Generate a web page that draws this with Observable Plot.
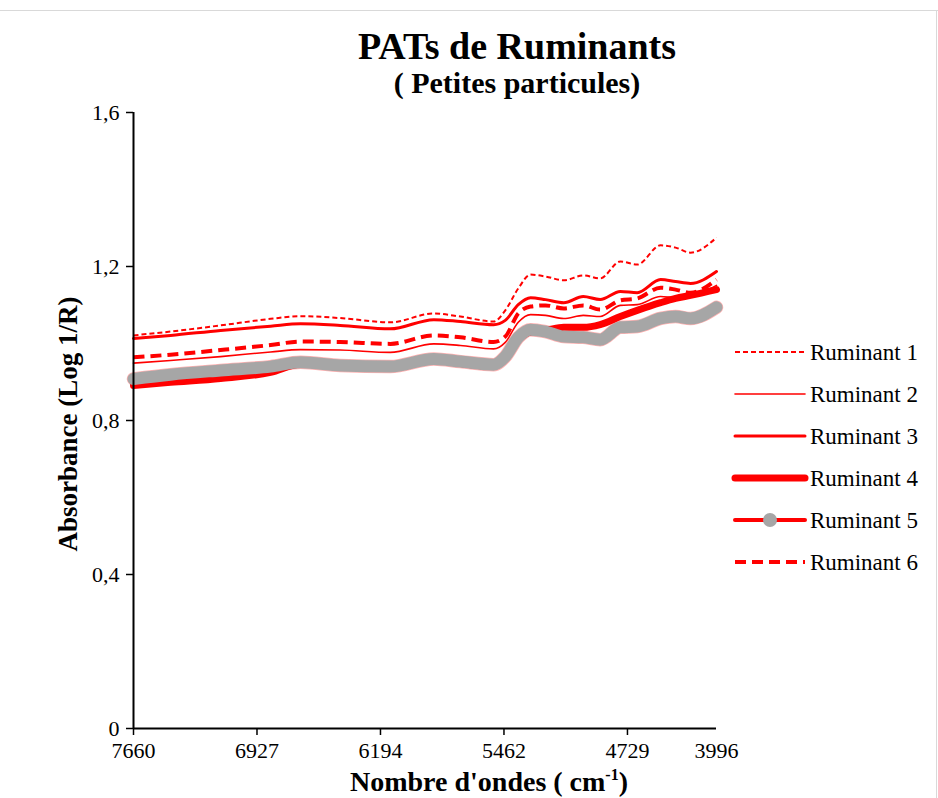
<!DOCTYPE html>
<html>
<head>
<meta charset="utf-8">
<script src="https://cdn.jsdelivr.net/npm/d3@7"></script>
<script src="https://cdn.jsdelivr.net/npm/@observablehq/plot@0.6"></script>
<style>
  html, body { margin: 0; padding: 0; background: #fff; }
  #wrap { position: relative; width: 938px; height: 798px; overflow: hidden; font-family: "Liberation Serif", "Times New Roman", serif; color: #000; }
  #wrap svg.plot { position: absolute; left: 0; top: 0; }
  .abs { position: absolute; white-space: nowrap; }
  #title { left: 267px; width: 500px; top: 25px; text-align: center; font-weight: bold; font-size: 38px; line-height: 42px; }
  #subtitle { left: 267px; width: 500px; top: 67px; text-align: center; font-weight: bold; font-size: 30px; line-height: 32px; }
  #ylabel { left: 68px; top: 424px; font-weight: bold; font-size: 27px; line-height: 30px; transform: translate(-50%, -50%) rotate(-90deg); }
  #xlabel { left: 489px; top: 782px; font-weight: bold; font-size: 28px; line-height: 28px; transform: translate(-50%, -50%); }
  #xlabel sup { font-size: 16px; vertical-align: 11px; line-height: 0; }
  #legend { left: 725px; top: 330px; }
  #frameTop { left: 0; top: 10px; width: 938px; height: 0; border-top: 1px solid #d9d9d9; }
  #frameRight { left: 936px; top: 10px; width: 0; height: 788px; border-left: 1px solid #d9d9d9; }
</style>
</head>
<body>
<div id="wrap">
  <div class="abs" id="frameTop"></div>
  <div class="abs" id="frameRight"></div>
  <div class="abs" id="title">PATs de Ruminants</div>
  <div class="abs" id="subtitle">( Petites particules)</div>
  <div class="abs" id="ylabel">Absorbance (Log 1/R)</div>
  <div class="abs" id="xlabel">Nombre d'ondes ( cm<sup>-1</sup>)</div>
  <div class="abs" id="legend"></div>
</div>
<script>
// ---- Data ----
// channel index along the (category) wavenumber axis
const pointIdx = [0, 57, 134, 211, 257, 318, 395, 462, 503, 554, 572, 592, 611, 634, 662, 692, 718, 749, 775, 811, 834, 857, 897];

const ruminant1 = [1.021, 1.031, 1.047, 1.064, 1.071, 1.066, 1.055, 1.078, 1.070, 1.057, 1.086, 1.143, 1.179, 1.174, 1.164, 1.177, 1.169, 1.213, 1.205, 1.255, 1.249, 1.236, 1.275];
const ruminant2 = [0.949, 0.956, 0.966, 0.978, 0.984, 0.983, 0.977, 0.999, 0.995, 0.986, 1.003, 1.055, 1.075, 1.073, 1.065, 1.073, 1.070, 1.099, 1.101, 1.122, 1.119, 1.122, 1.151];
const ruminant3 = [1.013, 1.021, 1.034, 1.045, 1.051, 1.047, 1.038, 1.062, 1.057, 1.049, 1.060, 1.101, 1.119, 1.114, 1.106, 1.122, 1.114, 1.135, 1.132, 1.166, 1.161, 1.156, 1.187];
const ruminant4 = [0.891, 0.899, 0.909, 0.925, 0.946, 0.939, 0.936, 0.955, 0.948, 0.940, 0.961, 1.010, 1.030, 1.034, 1.042, 1.042, 1.049, 1.070, 1.086, 1.106, 1.117, 1.125, 1.140];
const ruminant5 = [0.908, 0.919, 0.930, 0.940, 0.951, 0.943, 0.940, 0.960, 0.953, 0.945, 0.966, 1.016, 1.036, 1.031, 1.018, 1.016, 1.010, 1.042, 1.044, 1.065, 1.070, 1.065, 1.094];
const ruminant6 = [0.964, 0.971, 0.983, 0.996, 1.005, 1.004, 0.999, 1.021, 1.016, 1.004, 1.018, 1.078, 1.096, 1.099, 1.091, 1.099, 1.088, 1.112, 1.117, 1.145, 1.140, 1.132, 1.166];

const seriesNames = ["Ruminant 1", "Ruminant 2", "Ruminant 3", "Ruminant 4", "Ruminant 5", "Ruminant 6"];
const seriesValues = [ruminant1, ruminant2, ruminant3, ruminant4, ruminant5, ruminant6];

const xTickIdx = [0, 190, 380, 570, 760];
const xLabelIdx = [0, 190, 380, 570, 760, 897];
const xLabels = ["7660", "6927", "6194", "5462", "4729", "3996"];
const yTicks = [0, 0.4, 0.8, 1.2, 1.6];

// ---- Styles ----
const RED = "#ff0000";
const GRAY = "#a6a6a6";
const styles = [
  {strokeWidth: 2, dash: "5,3"},
  {strokeWidth: 1.6, dash: null},
  {strokeWidth: 3, dash: null},
  {strokeWidth: 7, dash: null},
  {strokeWidth: 2.5, dash: null, gray: true},
  {strokeWidth: 4, dash: "11,6"}
];

const rows = [];
seriesNames.forEach((name, s) => {
  seriesValues[s].forEach((v, i) => rows.push({series: name, idx: pointIdx[i], value: v}));
});

const lineMarks = [];
seriesNames.forEach((name, s) => {
  const st = styles[s];
  const data = rows.filter(r => r.series === name);
  if (st.gray) {
    lineMarks.push(Plot.line(data, {x: "idx", y: "value", curve: "monotone-x", stroke: RED, strokeWidth: 13.5, strokeOpacity: 0.3, strokeLinecap: "round"}));
    lineMarks.push(Plot.line(data, {x: "idx", y: "value", curve: "monotone-x", stroke: GRAY, strokeWidth: 12, strokeLinecap: "round"}));
  } else {
    lineMarks.push(Plot.line(data, {
      x: "idx", y: "value", curve: "monotone-x", stroke: RED,
      strokeWidth: st.strokeWidth, strokeDasharray: st.dash || undefined,
      strokeLinecap: st.dash ? "butt" : "round"
    }));
  }
});

const labelMap = new Map(xLabelIdx.map((d, i) => [d, xLabels[i]]));

const chart = Plot.plot({
  width: 938,
  height: 798,
  marginTop: 112,
  marginBottom: 70,
  marginLeft: 133,
  marginRight: 222,
  x: {domain: [0, 897], axis: null},
  y: {domain: [0, 1.6], axis: null},
  style: {fontFamily: "'Liberation Serif', 'Times New Roman', serif", fontSize: "22px", color: "#000", background: "transparent"},
  marks: [
    ...lineMarks,
    Plot.ruleX([0], {stroke: "#000", strokeWidth: 2}),
    Plot.ruleY([0], {stroke: "#000", strokeWidth: 2}),
    Plot.axisY(yTicks, {anchor: "left", tickSize: 7, tickPadding: 7, strokeWidth: 1.5, label: null,
      tickFormat: d => String(d).replace(".", ",")}),
    Plot.axisX(xTickIdx, {anchor: "bottom", tickSize: 7, strokeWidth: 1.5, label: null, tickFormat: () => ""}),
    Plot.axisX(xLabelIdx, {anchor: "bottom", tickSize: 0, tickPadding: 14, label: null,
      tickFormat: d => labelMap.get(d)})
  ]
});
chart.classList.add("plot");
document.getElementById("wrap").insertBefore(chart, document.getElementById("frameTop"));

// ---- Legend ----
const ns = "http://www.w3.org/2000/svg";
const lg = document.createElementNS(ns, "svg");
lg.setAttribute("width", "213");
lg.setAttribute("height", "260");
seriesNames.forEach((name, s) => {
  const st = styles[s];
  const y = 22 + s * 42;
  const line = document.createElementNS(ns, "line");
  line.setAttribute("x1", 10); line.setAttribute("x2", 80);
  line.setAttribute("y1", y); line.setAttribute("y2", y);
  line.setAttribute("stroke", RED);
  line.setAttribute("stroke-width", st.gray ? 4 : st.strokeWidth);
  if (st.dash) line.setAttribute("stroke-dasharray", st.dash);
  line.setAttribute("stroke-linecap", st.dash ? "butt" : "round");
  lg.appendChild(line);
  if (st.gray) {
    const c = document.createElementNS(ns, "circle");
    c.setAttribute("cx", 45); c.setAttribute("cy", y); c.setAttribute("r", 7);
    c.setAttribute("fill", GRAY);
    lg.appendChild(c);
  }
  const t = document.createElementNS(ns, "text");
  t.setAttribute("x", 85); t.setAttribute("y", y);
  t.setAttribute("dy", "0.35em");
  t.setAttribute("font-family", "'Liberation Serif', 'Times New Roman', serif");
  t.setAttribute("font-size", "23");
  t.textContent = name;
  lg.appendChild(t);
});
document.getElementById("legend").appendChild(lg);
</script>
</body>
</html>
